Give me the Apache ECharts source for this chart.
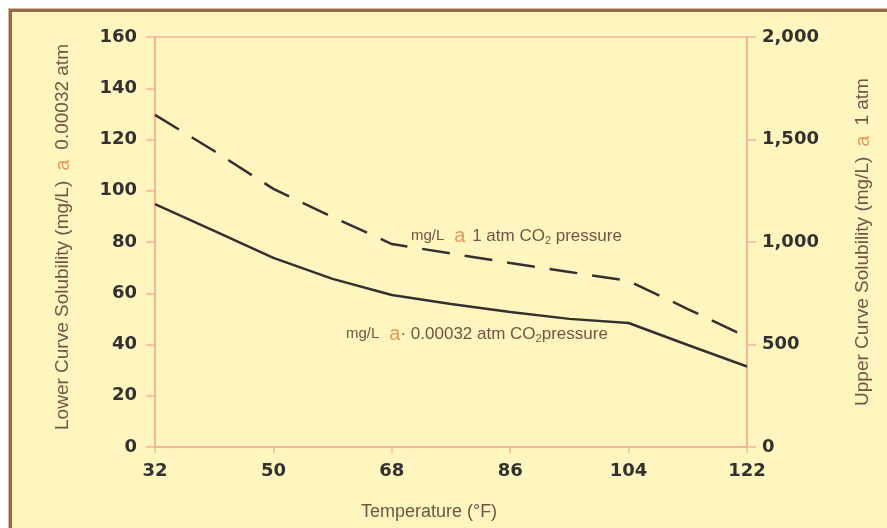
<!DOCTYPE html>
<html>
<head>
<meta charset="utf-8">
<script src="https://cdn.jsdelivr.net/npm/echarts@6/dist/echarts.min.js"></script>
<style>
  html, body { margin: 0; padding: 0; background: #fff; }
  .frame {
    position: absolute; left: 9px; top: 9px; width: 900px; height: 540px;
    background: #fff6bf;
    border: 3px solid #8f6c4e;
    box-shadow: 0 0 0 1px #d9b999;
  }
  #chart { position: absolute; left: 0; top: 0; width: 887px; height: 528px; }
</style>
</head>
<body>
<div class="frame"></div>
<div id="chart"></div>
<script>
// temperature (°F), every 9 degrees
const temps = ['32', '41', '50', '59', '68', '77', '86', '95', '104', '113', '122'];
// lower curve, mg/L @ 0.00032 atm (left axis)
const lowerCurve = [94.8, 84.3, 73.8, 65.6, 59.3, 55.8, 52.7, 50.0, 48.4, 39.8, 31.4];
// upper curve, mg/L @ 1 atm (right axis)
const upperCurve = [1620, 1444, 1259, 1122, 990, 944, 898, 854, 810, 673, 537];

const axisColor = '#f5b696';
const labelColor = '#333030';
const nameColor = '#735344';
const atColor = '#e39a5c';
const tickFont = 'DejaVu Sans, sans-serif';
const nameFont = 'Liberation Sans, Arial, sans-serif';

const chart = echarts.init(document.getElementById('chart'));

const nameRich = {
  t: { color: nameColor, fontSize: 19, fontFamily: nameFont },
  a: { color: atColor, fontSize: 20, fontFamily: nameFont }
};
const noteRich = {
  m: { fill: nameColor, fontSize: 15, fontFamily: nameFont },
  t: { fill: nameColor, fontSize: 17, fontFamily: nameFont },
  a: { fill: atColor, fontSize: 20, fontFamily: nameFont },
  s: { fill: nameColor, fontSize: 11, padding: [10, 0, 0, 0], fontFamily: nameFont }
};

const option = {
  backgroundColor: 'transparent',
  animation: false,
  grid: {
    left: 155, right: 140, top: 37, bottom: 81,
    outerBoundsMode: 'none',
    show: true, borderColor: axisColor, borderWidth: 1.5, backgroundColor: 'transparent'
  },
  xAxis: {
    type: 'category',
    data: temps,
    boundaryGap: false,
    axisLine: { lineStyle: { color: axisColor, width: 2 } },
    axisTick: { interval: 1, length: 6, lineStyle: { color: axisColor, width: 1.5 } },
    axisLabel: { interval: 1, color: labelColor, fontSize: 18, fontWeight: 'bold', fontFamily: tickFont, margin: 15 },
    name: 'Temperature (°F)',
    nameLocation: 'middle',
    nameGap: 56,
    nameTextStyle: { color: nameColor, fontSize: 18, fontFamily: nameFont, padding: [0, 44, 0, 0] }
  },
  yAxis: [
    {
      type: 'value', min: 0, max: 160, interval: 20,
      axisLine: { show: true, lineStyle: { color: axisColor, width: 2 } },
      axisTick: { show: true, length: 9, lineStyle: { color: axisColor, width: 1.5 } },
      splitLine: { show: false },
      axisLabel: { color: labelColor, fontSize: 18, fontWeight: 'bold', fontFamily: tickFont, margin: 18 },
      name: '{t|Lower Curve Solubility (mg/L)}   {a|a}   {t|0.00032 atm}',
      nameLocation: 'middle',
      nameGap: 82,
      nameRotate: 90,
      nameTextStyle: { rich: nameRich, padding: [0, 0, 0, 10] }
    },
    {
      type: 'value', min: 0, max: 2000, interval: 500, position: 'right',
      axisLine: { show: true, lineStyle: { color: axisColor, width: 2 } },
      axisTick: { show: true, length: 9, lineStyle: { color: axisColor, width: 1.5 } },
      splitLine: { show: false },
      axisLabel: {
        color: labelColor, fontSize: 18, fontWeight: 'bold', fontFamily: tickFont, margin: 15,
        formatter: v => v.toLocaleString('en-US')
      },
      name: '{t|Upper Curve Solubility (mg/L)}   {a|a}   {t|1 atm}',
      nameLocation: 'middle',
      nameGap: 106,
      nameRotate: 90,
      nameTextStyle: { rich: nameRich }
    }
  ],
  series: [
    {
      name: 'lower',
      type: 'line',
      yAxisIndex: 0,
      data: lowerCurve,
      symbol: 'none',
      lineStyle: { color: '#343030', width: 2.5 }
    },
    {
      name: 'upper',
      type: 'line',
      yAxisIndex: 1,
      data: upperCurve,
      symbol: 'none',
      lineStyle: { color: '#343030', width: 2.5, type: [28, 15] }
    }
  ],
  graphic: [
    {
      type: 'text', left: 411, top: 226,
      style: { text: '{m|mg/L}   {a|a}  {t|1 atm CO}{s|2}{t| pressure}', rich: noteRich }
    },
    {
      type: 'text', left: 346, top: 324,
      style: { text: '{m|mg/L}   {a|a}{t|· 0.00032 atm CO}{s|2}{t|pressure}', rich: noteRich }
    }
  ]
};

chart.setOption(option);
</script>
</body>
</html>
